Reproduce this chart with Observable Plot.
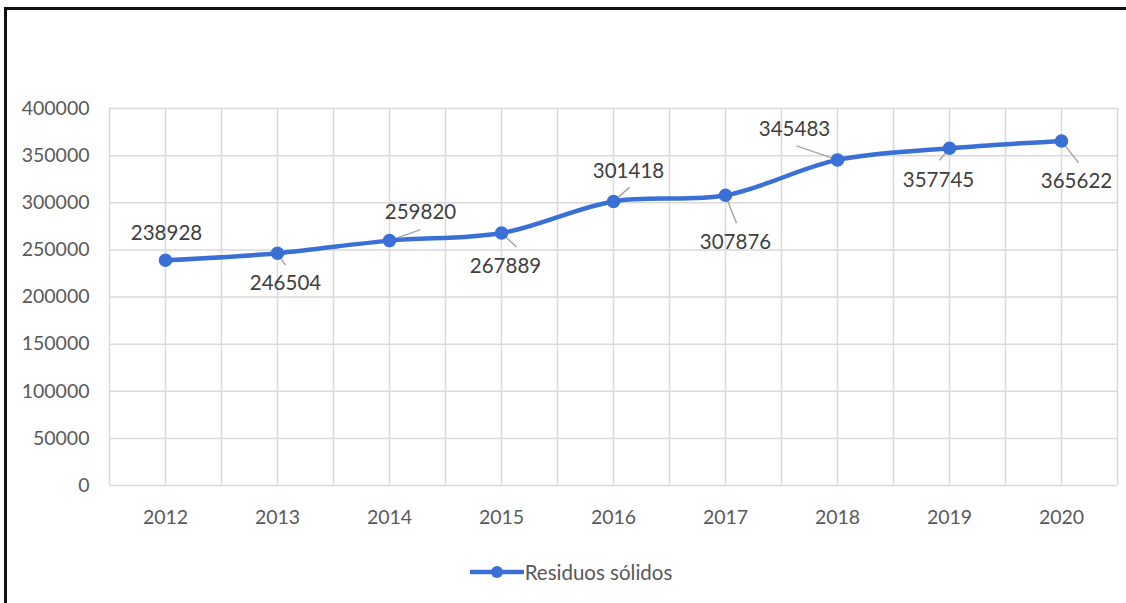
<!DOCTYPE html>
<html>
<head>
<meta charset="utf-8">
<script src="https://cdn.jsdelivr.net/npm/d3@7"></script>
<script src="https://cdn.jsdelivr.net/npm/@observablehq/plot@0.6"></script>
<style>
  html, body { margin: 0; padding: 0; background: #fff; }
  body { width: 1126px; height: 603px; position: relative; overflow: hidden; font-family: Lato, "Open Sans", sans-serif; }
  #frame { position: absolute; left: 4px; top: 7px; width: 1140px; height: 620px; border-left: 3px solid #111; border-top: 3px solid #111; }
  #chart { position: absolute; left: 0; top: 0; }
  #chart svg { overflow: visible; }
  #legend { position: absolute; top: 560px; left: 8px; width: 1126px; display: flex; justify-content: center; align-items: center; color: #595959; font-size: 20.5px; }
  #legend svg { margin-right: 1px; }
</style>
</head>
<body>
<div id="frame"></div>
<div id="chart"></div>
<div id="legend"></div>
<script>
const years = [2012, 2013, 2014, 2015, 2016, 2017, 2018, 2019, 2020];
const residuos = [238928, 246504, 259820, 267889, 301418, 307876, 345483, 357745, 365622];
const yTicks = [0, 50000, 100000, 150000, 200000, 250000, 300000, 350000, 400000];
const seriesName = "Residuos sólidos";

// label placement (pixel offsets from the point): label centre and leader end
const labelDx = [1, 8, 31, 4, 15, 10, -43, -11, 15];
const labelDy = [-27, 30, -28, 33, -30, 47, -30, 32, 41];
const leadDx = [0, 8, 31, 15, 16, 11, -41, -10, 17];
const leadDy = [0, 12, -11, 14, -14, 28, -14, 12, 22];

const blue = "#3a6fd5";
const W = 1126, H = 545;
const mL = 109, mR = 9, mT = 108, mB = 60;
const pxPerYear = (W - mL - mR) / 9;
const pxPerUnit = (H - mT - mB) / 400000;

const data = years.map((y, i) => ({
  year: y, value: residuos[i],
  dx: labelDx[i], dy: labelDy[i],
  x2: y + leadDx[i] / pxPerYear,
  y2: residuos[i] - leadDy[i] / pxPerUnit,
  lead: leadDx[i] !== 0 || leadDy[i] !== 0
}));

const gridX = years.concat(years.map(y => y - 0.5), [2020.5]);

const chart = Plot.plot({
  width: W, height: H,
  marginLeft: mL, marginRight: mR, marginTop: mT, marginBottom: mB,
  style: { fontFamily: "Lato, 'Open Sans', sans-serif", fontSize: "19.5px", color: "#595959", background: "transparent", overflow: "visible" },
  x: { type: "linear", domain: [2011.5, 2020.5], ticks: years, tickFormat: d3.format("d"), tickSize: 0, tickPadding: 25, label: null },
  y: { domain: [0, 400000], ticks: yTicks, tickFormat: d3.format("d"), tickSize: 0, tickPadding: 20, label: null },
  marks: [
    Plot.ruleX(gridX, { stroke: "#d9d9d9", strokeWidth: 1.5, y1: 0, y2: 400000 }),
    Plot.ruleY(yTicks, { stroke: "#d9d9d9", strokeWidth: 1.5 }),
    Plot.link(data.filter(d => d.lead), { x1: "year", y1: "value", x2: "x2", y2: "y2", stroke: "#a6a6a6", strokeWidth: 1.5 }),
    Plot.line(data, { x: "year", y: "value", curve: "catmull-rom", stroke: blue, strokeWidth: 4.5 }),
    Plot.dot(data, { x: "year", y: "value", r: 6, fill: blue, stroke: blue }),
    ...data.map(d => Plot.text([d], { x: "year", y: "value", text: d => String(d.value), dx: d.dx, dy: d.dy, fill: "#404040", fontSize: 20.5 }))
  ]
});
document.getElementById("chart").appendChild(chart);

// legend
const leg = document.getElementById("legend");
const sw = d3.create("svg").attr("width", 54).attr("height", 20);
sw.append("line").attr("x1", 1).attr("x2", 53).attr("y1", 10).attr("y2", 10).attr("stroke", blue).attr("stroke-width", 4.5).attr("stroke-linecap", "round");
sw.append("circle").attr("cx", 27).attr("cy", 10).attr("r", 6).attr("fill", blue);
leg.appendChild(sw.node());
const span = document.createElement("span");
span.textContent = seriesName;
leg.appendChild(span);
</script>
</body>
</html>
